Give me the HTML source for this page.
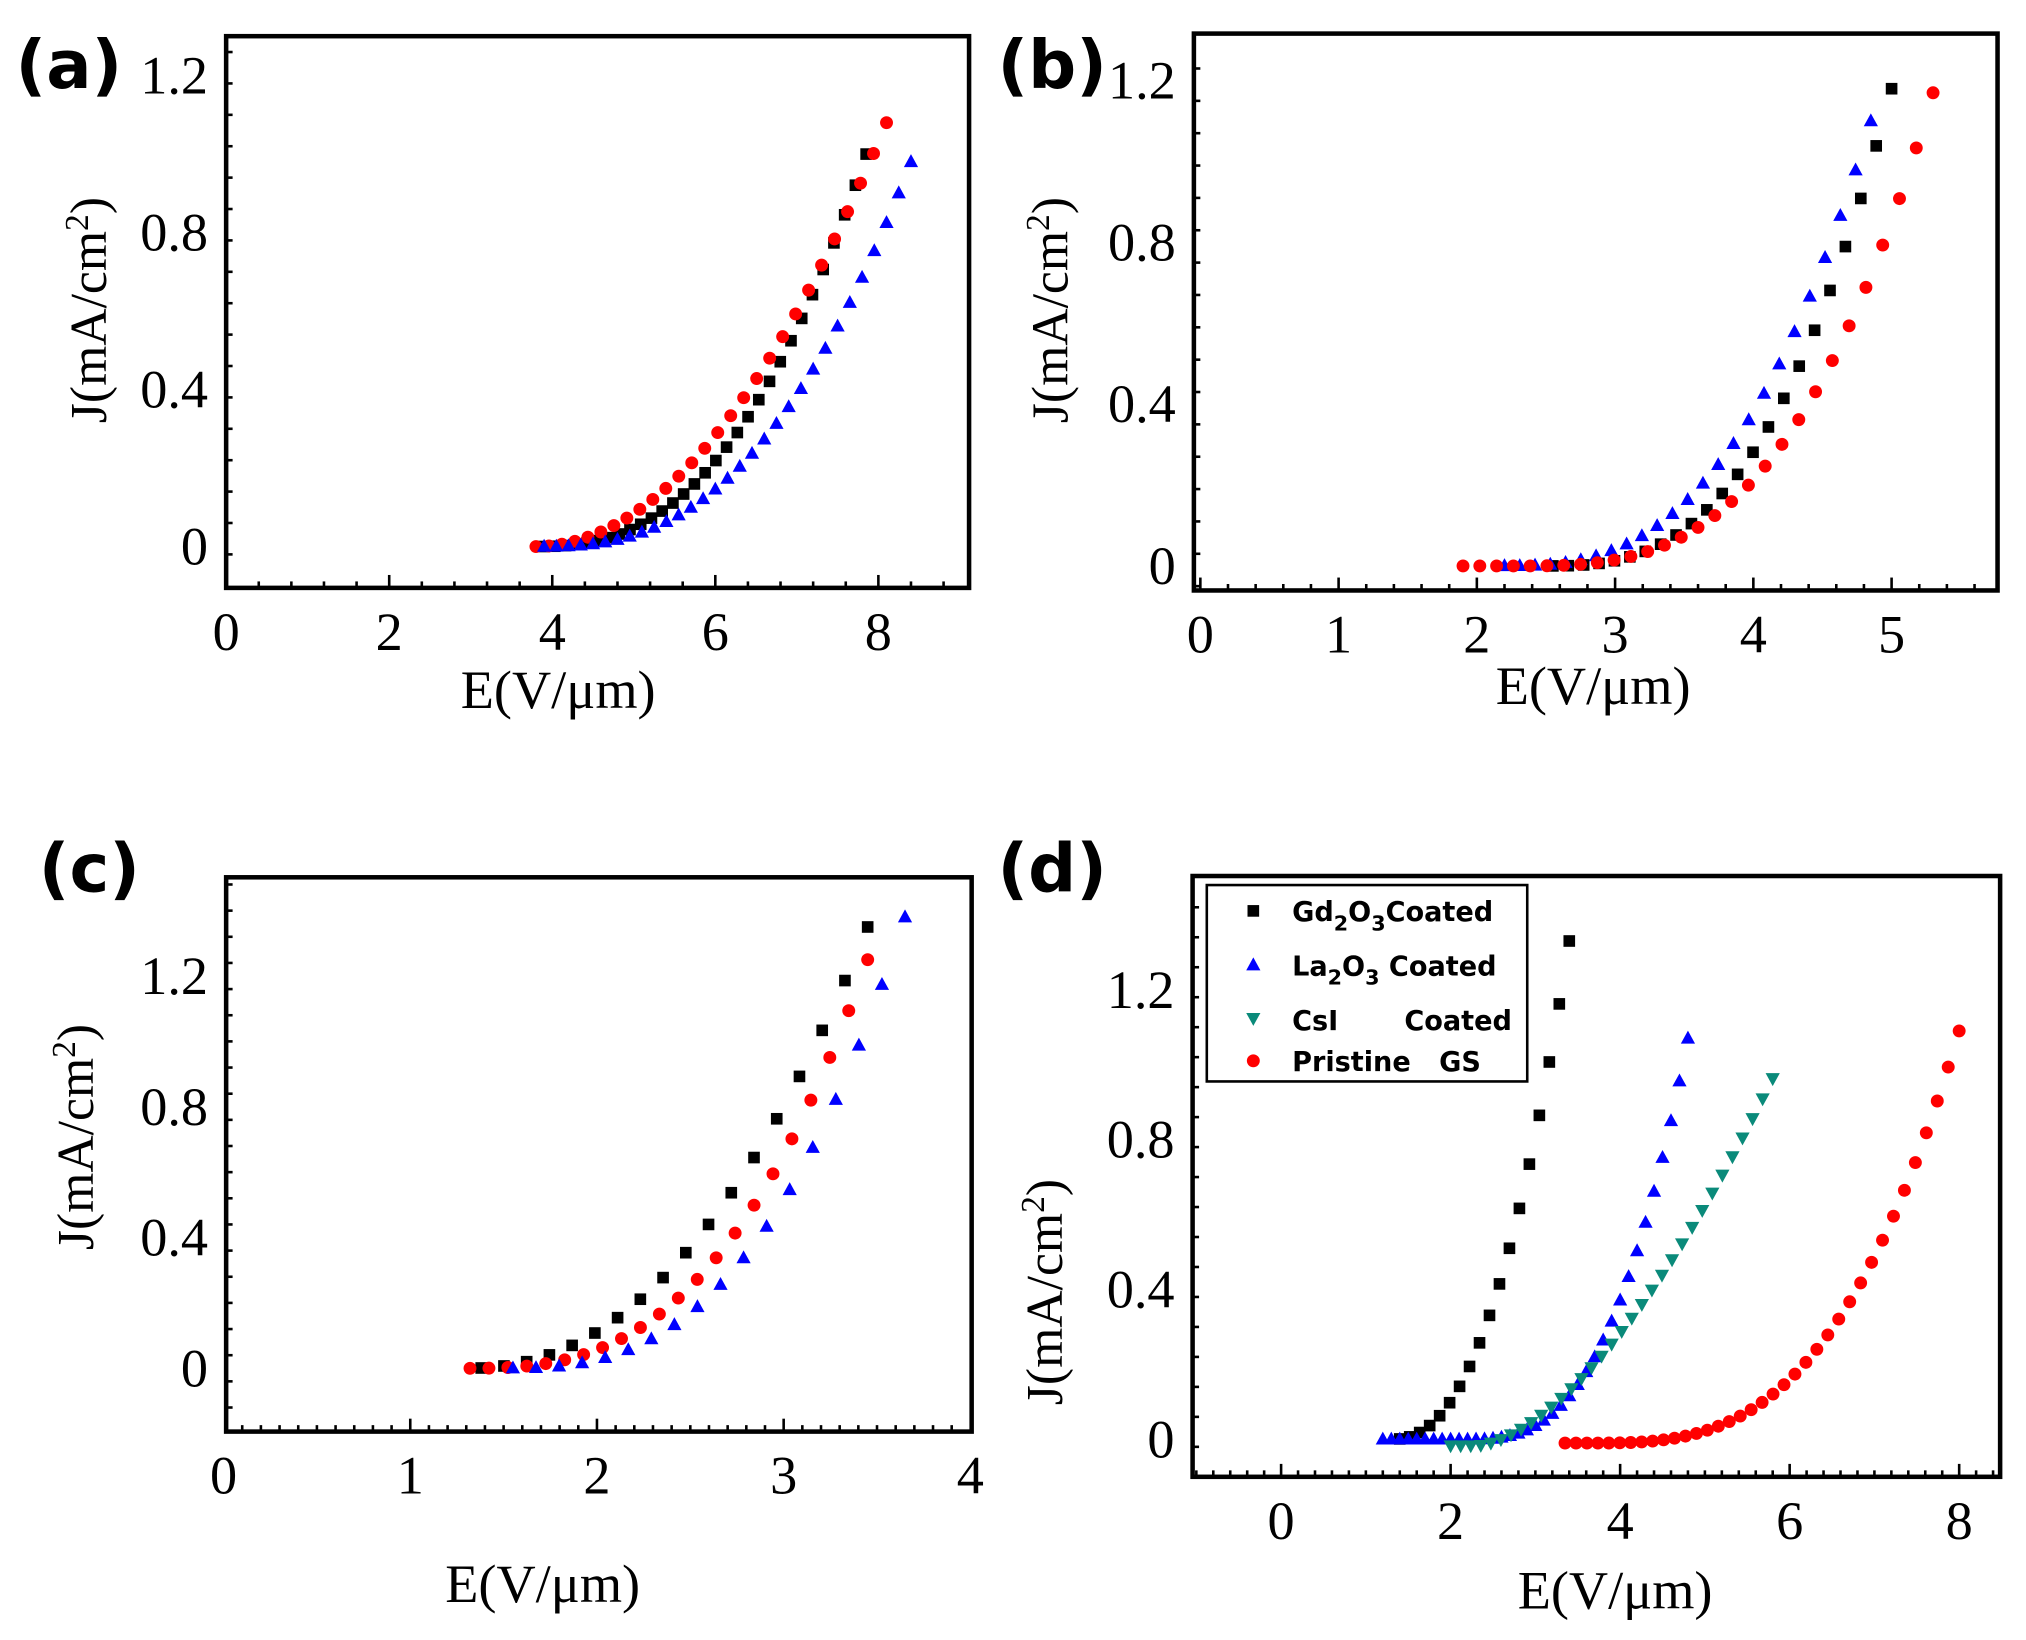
<!DOCTYPE html>
<html><head><meta charset="utf-8"><style>html,body{margin:0;padding:0;background:#fff}svg{display:block}</style></head>
<body>
<svg id="s" xmlns="http://www.w3.org/2000/svg" width="2026" height="1640" viewBox="0 0 1568 1269.3">
<rect width="1568" height="1270" fill="#fff"/>
<g id="g"></g>
</svg>
<script>
const NS="http://www.w3.org/2000/svg";const G=document.getElementById('g');
function el(t,a,txt){const e=document.createElementNS(NS,t);for(const k in a)e.setAttribute(k,a[k]);if(txt!==undefined)e.textContent=txt;G.appendChild(e);return e;}
function panel(P){
 const X=v=>P.x0+v*P.xu, Y=v=>P.y0-v*P.yu;
 el('rect',{x:P.L,y:P.T,width:P.R-P.L,height:P.B-P.T,fill:'none',stroke:'#000','stroke-width':3.5});
 for(let v=P.xmin;v<=P.xmax+1e-6;v+=P.xstep/P.xminor){const px=X(v);if(px<P.L+2||px>P.R-2)continue;
  const maj=Math.abs(v/P.xstep-Math.round(v/P.xstep))<1e-3;el('line',{x1:px,x2:px,y1:P.B,y2:P.B-(maj?10:5),stroke:'#000','stroke-width':2});}
 P.xt.forEach(v=>el('text',{x:X(v),y:P.B+48,'text-anchor':'middle','font-family':'Liberation Serif, serif','font-size':42},String(v)));
 for(let v=P.ymin;v<=P.ymax+1e-6;v+=0.4/P.yminor){const py=Y(v);if(py<P.T+2||py>P.B-2)continue;
  const maj=Math.abs(v/0.4-Math.round(v/0.4))<1e-3;el('line',{x1:P.L,x2:P.L+(maj?10:5),y1:py,y2:py,stroke:'#000','stroke-width':2});}
 P.yt.forEach(v=>el('text',{x:P.L-14,y:Y(v)+14,'text-anchor':'end','font-family':'Liberation Serif, serif','font-size':42},v===0?'0':v.toFixed(1)));
 el('text',{x:P.xtx,y:P.xty,'text-anchor':'middle','font-family':'Liberation Serif, serif','font-size':42},'E(V/μm)');
 const t=el('text',{x:0,y:0,'text-anchor':'middle','font-family':'Liberation Serif, serif','font-size':40,transform:`translate(${P.ytx},${P.yty}) rotate(-90)`});
 t.innerHTML='J(mA/cm<tspan dy="-14" font-size="26">2</tspan><tspan dy="14">)</tspan>';
 el('text',{x:P.lx,y:P.ly,'font-family':'DejaVu Sans, sans-serif','font-weight':'bold','font-size':52},P.lab);
 P.series.forEach(S=>{const n=Math.round((S.e-S.s)/S.d);for(let i=0;i<=n;i++){const e=S.s+(S.e-S.s)*i/n;let j=e<=S.z?0:S.m*Math.pow((e-S.z)/(S.e-S.z),S.p);j+=S.off||0;mark(S.t,X(e),Y(j),S.c);}});
}
function mark(t,x,y,c){
 if(t==='sq')el('rect',{x:x-4.5,y:y-4.5,width:9,height:9,fill:c});
 else if(t==='ci')el('circle',{cx:x,cy:y,r:5,fill:c});
 else if(t==='tu')el('polygon',{points:`${x},${y-6} ${x-5.5},${y+4} ${x+5.5},${y+4}`,fill:c});
 else el('polygon',{points:`${x},${y+5} ${x-5.5},${y-5} ${x+5.5},${y-5}`,fill:c});
}
const K='#000',R='#f00',B='#0000ff',T='#0a8a7a';
panel({L:175,R:750,T:28,B:455,x0:175,xu:63.1,y0:423,yu:303.75,xmin:0,xmax:9.1,xstep:2,xminor:5,ymin:-0.1,ymax:1.3,yminor:5,
 xt:[0,2,4,6,8],yt:[0,0.4,0.8,1.2],xtx:432,xty:548,ytx:82,yty:240,lx:12,ly:68,lab:'(a)',
 series:[{t:'sq',c:K,s:3.9,e:7.85,d:0.13,z:3.8,m:1.0,p:2.5},{t:'ci',c:R,s:3.8,e:8.1,d:0.16,z:3.8,m:1.08,p:2.0},{t:'tu',c:B,s:3.9,e:8.4,d:0.15,z:3.9,m:0.98,p:2.5}]});
panel({L:924,R:1546,T:26,B:457,x0:929,xu:107,y0:438,yu:313,xmin:0,xmax:5.8,xstep:1,xminor:5,ymin:-0.05,ymax:1.3,yminor:5,
 xt:[0,1,2,3,4,5],yt:[0,0.4,0.8,1.2],xtx:1233,xty:545,ytx:826,yty:240,lx:772,ly:68,lab:'(b)',
 series:[{t:'sq',c:K,s:2.55,e:5.0,d:0.11,z:2.5,m:1.18,p:2.8},{t:'tu',c:B,s:2.2,e:4.85,d:0.11,z:2.2,m:1.1,p:2.75},{t:'ci',c:R,s:1.9,e:5.3,d:0.12,z:2.3,m:1.17,p:3.0}]});
panel({L:175,R:752,T:679,B:1108,x0:173,xu:144.5,y0:1059,yu:253,xmin:0,xmax:4,xstep:1,xminor:10,ymin:-0.2,ymax:1.5,yminor:5,
 xt:[0,1,2,3,4],yt:[0,0.4,0.8,1.2],xtx:420,xty:1240,ytx:72,yty:880,lx:30,ly:690,lab:'(c)',
 series:[{t:'sq',c:K,s:1.38,e:3.45,d:0.12,z:1.3,m:1.35,p:2.22},{t:'ci',c:R,s:1.32,e:3.45,d:0.1,z:1.3,m:1.25,p:2.76},{t:'tu',c:B,s:1.55,e:3.65,d:0.12,z:1.5,m:1.38,p:2.74}]});
panel({L:923,R:1548,T:678,B:1143,x0:991.5,xu:65.6,y0:1114,yu:290,xmin:-1,xmax:8.5,xstep:2,xminor:10,ymin:-0.1,ymax:1.5,yminor:5,
 xt:[0,2,4,6,8],yt:[0,0.4,0.8,1.2],xtx:1250,xty:1245,ytx:822,yty:1000,lx:772,ly:690,lab:'(d)',
 series:[{t:'sq',c:K,s:1.4,e:3.4,d:0.12,z:1.3,m:1.33,p:2.34},{t:'tu',c:B,s:1.2,e:4.8,d:0.1,z:2.2,m:1.07,p:2.88},{t:'td',c:T,s:2.0,e:5.8,d:0.12,z:2.3,m:0.98,p:1.64,off:-0.02},{t:'ci',c:R,s:3.35,e:8.0,d:0.13,z:3.6,m:1.1,p:3.08,off:-0.01}]});
el('rect',{x:934,y:685,width:248,height:152,fill:'#fff',stroke:'#000','stroke-width':2});
[['sq',K,'Gd<tspan dy="7" font-size="16">2</tspan><tspan dy="-7">O</tspan><tspan dy="7" font-size="16">3</tspan><tspan dy="-7">Coated</tspan>',705],
 ['tu',B,'La<tspan dy="7" font-size="16">2</tspan><tspan dy="-7">O</tspan><tspan dy="7" font-size="16">3</tspan><tspan dy="-7"> Coated</tspan>',747],
 ['td',T,'CsI&#160;&#160;&#160;&#160;&#160;&#160;&#160;Coated',789],
 ['ci',R,'Pristine&#160;&#160;&#160;GS',821]].forEach(a=>{mark(a[0],970,a[3],a[1]);const t=el('text',{x:1000,y:a[3]+8,'font-family':'DejaVu Sans, sans-serif','font-weight':'bold','font-size':21});t.innerHTML=a[2];});
</script>
</body></html>
